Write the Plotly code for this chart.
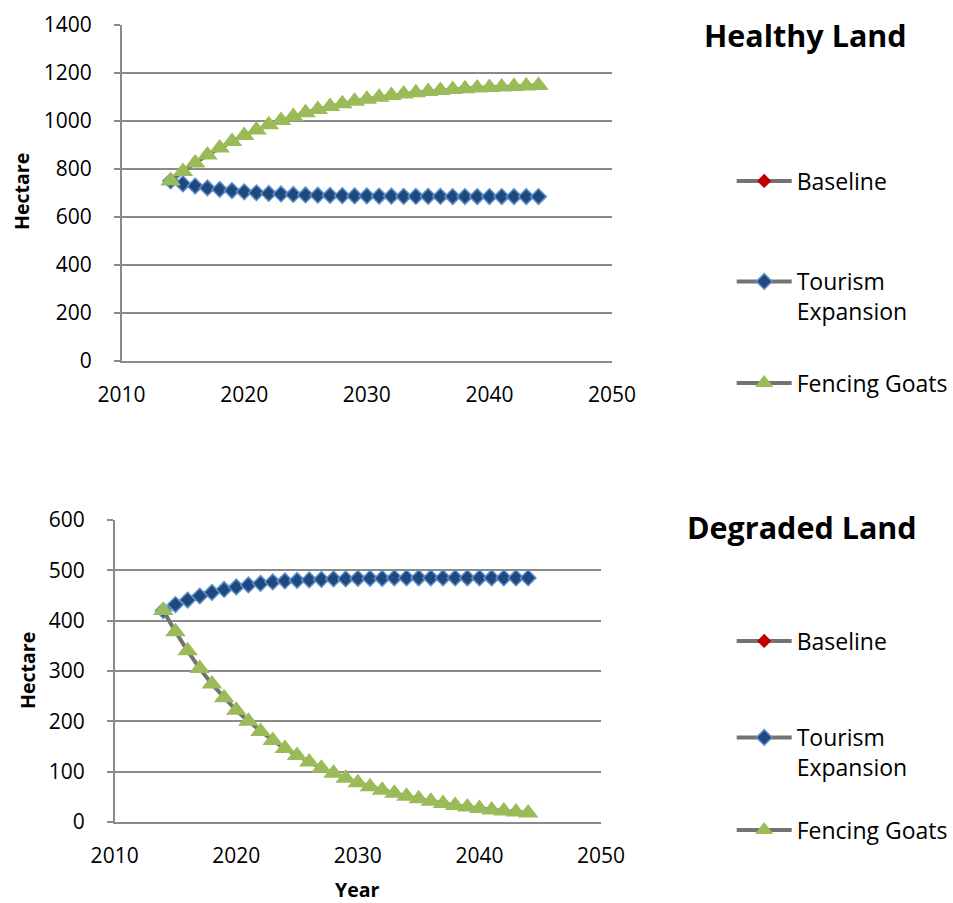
import plotly.graph_objects as go

# ---------------- data ----------------
years = [2014, 2015, 2016, 2017, 2018, 2019, 2020, 2021, 2022, 2023, 2024,
         2025, 2026, 2027, 2028, 2029, 2030, 2031, 2032, 2033, 2034,
         2035, 2036, 2037, 2038, 2039, 2040, 2041, 2042, 2043, 2044]

healthy_baseline = [750, 738, 729, 721, 715, 710, 705, 701, 698, 696, 694,
                    692, 691, 690, 689, 688, 688, 687, 687, 686, 686,
                    686, 686, 685, 685, 685, 685, 685, 685, 685, 685]
healthy_tourism = [750, 738, 729, 721, 715, 710, 705, 701, 698, 696, 694,
                   692, 691, 690, 689, 688, 688, 687, 687, 686, 686,
                   686, 686, 685, 685, 685, 685, 685, 685, 685, 685]
healthy_fencing = [750, 790, 825, 858, 888, 915, 940, 963, 984, 1002, 1019,
                   1034, 1048, 1060, 1072, 1082, 1091, 1099, 1106, 1112, 1118,
                   1123, 1127, 1131, 1134, 1137, 1140, 1142, 1144, 1146, 1148]

degraded_baseline = [420, 432, 441, 449, 456, 462, 467, 471, 474, 477, 479,
                     480, 481, 482, 483, 483, 484, 484, 484, 485, 485,
                     485, 485, 485, 485, 485, 485, 485, 485, 485, 485]
degraded_tourism = [420, 432, 441, 449, 456, 462, 467, 471, 474, 477, 479,
                    480, 481, 482, 483, 483, 484, 484, 484, 485, 485,
                    485, 485, 485, 485, 485, 485, 485, 485, 485, 485]
degraded_fencing = [420, 378, 340, 305, 274, 247, 222, 200, 180, 162, 146,
                    132, 119, 107, 97, 87, 78, 70, 63, 57, 51,
                    46, 41, 37, 33, 30, 27, 24, 22, 20, 18]

series_names = ["Baseline", "Tourism<br>Expansion", "Fencing Goats"]
panel_titles = ["Healthy Land", "Degraded Land"]
x_ticks = [2010, 2020, 2030, 2040, 2050]

# ---------------- styling ----------------
W, H = 953, 903
FONT = "Open Sans"
GRID = "#8a8a8a"
LINE = "#737373"


def px(x):
    return x / W


def py(y):
    return 1 - y / H


markers = [
    dict(symbol="diamond", size=11, color="#C00000", line=dict(width=0)),
    dict(symbol="diamond", size=12, color="#1F497D", line=dict(width=1.5, color="#5B8FCC")),
    dict(symbol="triangle-up", size=18, color="#9BBB59", line=dict(width=0)),
]

fig = go.Figure()

panels = [
    ("x", "y", [healthy_baseline, healthy_tourism, healthy_fencing], ["legend", "legend2", "legend3"]),
    ("x2", "y2", [degraded_baseline, degraded_tourism, degraded_fencing], ["legend4", "legend5", "legend6"]),
]

for xa, ya, vals, legs in panels:
    for name, v, mk, lg in zip(series_names, vals, markers, legs):
        fig.add_trace(go.Scatter(
            x=years, y=v, name=name, mode="lines+markers",
            line=dict(color=LINE, width=4),
            marker=mk, xaxis=xa, yaxis=ya, legend=lg, showlegend=True,
            hoverinfo="x+y+name",
        ))

tick_font = dict(family=FONT, size=21, color="#000000")

common_x = dict(range=[2010, 2050], tickvals=x_ticks, showgrid=False, zeroline=False,
                showline=True, linecolor=GRID, linewidth=1.5, ticks="",
                tickfont=tick_font, automargin=False, ticklabelstandoff=14)
common_y = dict(showgrid=True, gridcolor=GRID, gridwidth=1.5, zeroline=False,
                showline=True, linecolor=GRID, linewidth=1.5, ticks="outside",
                ticklen=6, tickcolor=GRID, tickwidth=1.5,
                tickfont=tick_font, automargin=False, ticklabelstandoff=18)

fig.update_layout(
    width=W, height=H,
    margin=dict(l=0, r=0, t=0, b=0),
    paper_bgcolor="white", plot_bgcolor="white",
    font=dict(family=FONT, size=21, color="#000000"),
    xaxis=dict(domain=[px(122), px(614)], anchor="y", **common_x),
    yaxis=dict(domain=[py(361), py(25)], anchor="x", range=[0, 1400], dtick=200, **common_y),
    xaxis2=dict(domain=[px(115), px(603)], anchor="y2", **common_x),
    yaxis2=dict(domain=[py(822), py(520)], anchor="x2", range=[0, 600], dtick=100, **common_y),
)

# legends, one per entry, positioned like the original
leg_pos = {
    "legend": (181, "middle"), "legend2": (260, "top"), "legend3": (383, "middle"),
    "legend4": (641, "middle"), "legend5": (716, "top"), "legend6": (830, "middle"),
}
for lg, (yy, anc) in leg_pos.items():
    fig.update_layout(**{lg: dict(
        x=px(734), xanchor="left", y=py(yy), yanchor=anc,
        bgcolor="rgba(0,0,0,0)", borderwidth=0, itemwidth=55, valign="top",
        font=dict(family=FONT, size=23, color="#000000"), itemclick=False,
    )})

# panel titles
for t, (xx, yy) in zip(panel_titles, [(808, 35), (805, 527)]):
    fig.add_annotation(text="<b>%s</b>" % t, x=px(xx), y=py(yy), xref="paper", yref="paper",
                       showarrow=False, font=dict(family=FONT, size=30.5, color="#000000"),
                       xanchor="center", yanchor="middle")

# axis titles
for xx, yy in [(22, 191), (27, 670)]:
    fig.add_annotation(text="<b>Hectare</b>", x=px(xx), y=py(yy), xref="paper", yref="paper",
                       showarrow=False, textangle=-90,
                       font=dict(family=FONT, size=19.5, color="#000000"),
                       xanchor="center", yanchor="middle")
fig.add_annotation(text="<b>Year</b>", x=px(358), y=py(889), xref="paper", yref="paper",
                   showarrow=False, font=dict(family=FONT, size=19.5, color="#000000"),
                   xanchor="center", yanchor="middle")

fig.write_html("out.html")
